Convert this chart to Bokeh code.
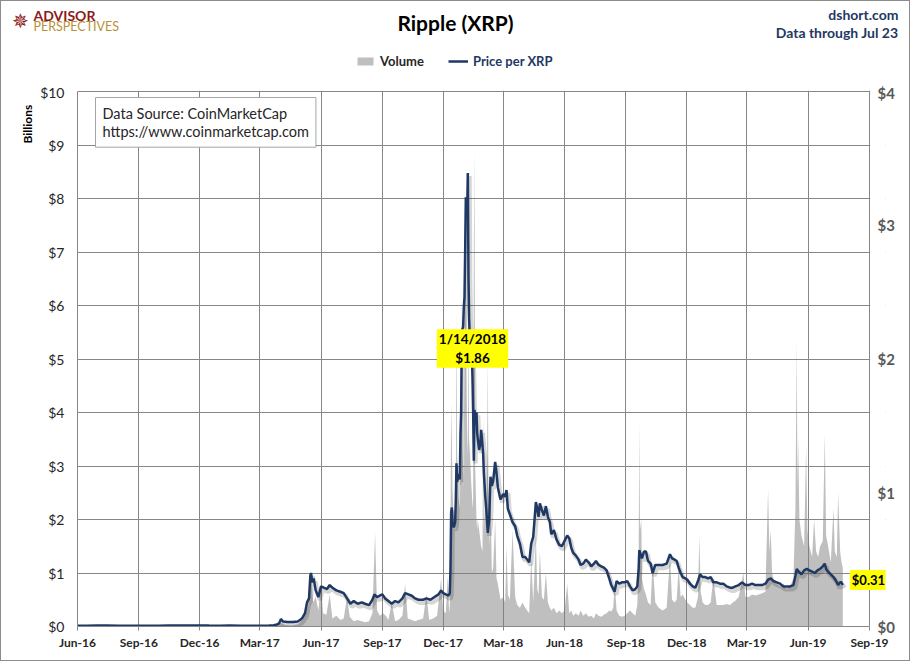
import math
import pandas as pd
from bokeh.plotting import figure
from bokeh.layouts import column, row
from bokeh.models import (ColumnDataSource, Range1d, LinearAxis, FixedTicker,
                          NumeralTickFormatter, Label, Legend, LegendItem, BoxAnnotation)
from bokeh.transform import dodge
from bokeh.embed import file_html
from bokeh.resources import INLINE

# ---------------- data ----------------
x_start = "2016-06-01"
x_end = "2019-09-01"
x_tick_dates = ["2016-06-01", "2016-09-01", "2016-12-01", "2017-03-01", "2017-06-01",
                "2017-09-01", "2017-12-01", "2018-03-01", "2018-06-01", "2018-09-01",
                "2018-12-01", "2019-03-01", "2019-06-01", "2019-09-01"]
x_tick_labels = ["Jun-16", "Sep-16", "Dec-16", "Mar-17", "Jun-17", "Sep-17", "Dec-17",
                 "Mar-18", "Jun-18", "Sep-18", "Dec-18", "Mar-19", "Jun-19", "Sep-19"]
vol_ticks = [0, 1, 2, 3, 4, 5, 6, 7, 8, 9, 10]
price_ticks = [0, 1, 2, 3, 4]

price_dates = [
    "2016-06-01", "2016-06-15", "2016-07-01", "2016-07-15", "2016-08-01", "2016-08-15", "2016-09-01", "2016-09-15",
    "2016-10-01", "2016-10-15", "2016-11-01", "2016-11-15", "2016-12-01", "2016-12-15", "2017-01-01", "2017-01-15",
    "2017-02-01", "2017-02-15", "2017-03-01", "2017-03-15", "2017-03-22", "2017-03-26", "2017-03-30", "2017-04-02",
    "2017-04-05", "2017-04-12", "2017-04-20", "2017-04-27", "2017-05-01", "2017-05-04", "2017-05-08", "2017-05-11",
    "2017-05-14", "2017-05-16", "2017-05-17", "2017-05-19", "2017-05-21", "2017-05-24", "2017-05-28", "2017-06-01",
    "2017-06-05", "2017-06-10", "2017-06-14", "2017-06-18", "2017-06-24", "2017-06-30", "2017-07-05", "2017-07-10",
    "2017-07-15", "2017-07-20", "2017-07-26", "2017-08-01", "2017-08-06", "2017-08-12", "2017-08-17", "2017-08-20",
    "2017-08-24", "2017-08-28", "2017-09-01", "2017-09-05", "2017-09-10", "2017-09-15", "2017-09-20", "2017-09-25",
    "2017-10-01", "2017-10-05", "2017-10-10", "2017-10-15", "2017-10-20", "2017-10-25", "2017-11-01", "2017-11-06",
    "2017-11-12", "2017-11-18", "2017-11-24", "2017-11-28", "2017-12-01", "2017-12-05", "2017-12-09", "2017-12-11",
    "2017-12-12", "2017-12-13", "2017-12-14", "2017-12-15", "2017-12-17", "2017-12-19", "2017-12-20", "2017-12-21",
    "2017-12-22", "2017-12-24", "2017-12-26", "2017-12-27", "2017-12-28", "2017-12-29", "2017-12-31", "2018-01-01",
    "2018-01-02", "2018-01-03", "2018-01-04", "2018-01-05", "2018-01-06", "2018-01-07", "2018-01-08", "2018-01-09",
    "2018-01-10", "2018-01-11", "2018-01-12", "2018-01-13", "2018-01-14", "2018-01-15", "2018-01-16", "2018-01-17",
    "2018-01-18", "2018-01-20", "2018-01-21", "2018-01-22", "2018-01-24", "2018-01-26", "2018-01-27", "2018-01-29",
    "2018-01-30", "2018-01-31", "2018-02-02", "2018-02-04", "2018-02-06", "2018-02-08", "2018-02-10", "2018-02-12",
    "2018-02-14", "2018-02-17", "2018-02-19", "2018-02-21", "2018-02-25", "2018-03-01", "2018-03-04", "2018-03-06",
    "2018-03-08", "2018-03-11", "2018-03-15", "2018-03-19", "2018-03-22", "2018-03-26", "2018-03-30", "2018-04-03",
    "2018-04-06", "2018-04-09", "2018-04-12", "2018-04-15", "2018-04-19", "2018-04-21", "2018-04-23", "2018-04-25",
    "2018-04-28", "2018-05-01", "2018-05-04", "2018-05-07", "2018-05-10", "2018-05-12", "2018-05-16", "2018-05-20",
    "2018-05-24", "2018-05-28", "2018-06-01", "2018-06-05", "2018-06-08", "2018-06-11", "2018-06-14", "2018-06-18",
    "2018-06-22", "2018-06-25", "2018-06-29", "2018-07-03", "2018-07-07", "2018-07-11", "2018-07-15", "2018-07-18",
    "2018-07-22", "2018-07-26", "2018-07-30", "2018-08-03", "2018-08-07", "2018-08-10", "2018-08-13", "2018-08-15",
    "2018-08-18", "2018-08-22", "2018-08-26", "2018-08-30", "2018-09-03", "2018-09-07", "2018-09-11", "2018-09-15",
    "2018-09-18", "2018-09-20", "2018-09-21", "2018-09-23", "2018-09-25", "2018-09-28", "2018-10-01", "2018-10-04",
    "2018-10-08", "2018-10-11", "2018-10-15", "2018-10-20", "2018-10-26", "2018-11-01", "2018-11-06", "2018-11-09",
    "2018-11-13", "2018-11-16", "2018-11-19", "2018-11-22", "2018-11-25", "2018-11-29", "2018-12-02", "2018-12-06",
    "2018-12-10", "2018-12-14", "2018-12-18", "2018-12-21", "2018-12-25", "2018-12-29", "2019-01-02", "2019-01-06",
    "2019-01-10", "2019-01-15", "2019-01-20", "2019-01-25", "2019-01-30", "2019-02-04", "2019-02-08", "2019-02-12",
    "2019-02-17", "2019-02-22", "2019-02-27", "2019-03-04", "2019-03-09", "2019-03-14", "2019-03-19", "2019-03-24",
    "2019-03-29", "2019-04-02", "2019-04-06", "2019-04-10", "2019-04-15", "2019-04-20", "2019-04-25", "2019-04-30",
    "2019-05-05", "2019-05-10", "2019-05-13", "2019-05-15", "2019-05-18", "2019-05-22", "2019-05-26", "2019-05-30",
    "2019-06-03", "2019-06-07", "2019-06-11", "2019-06-15", "2019-06-19", "2019-06-23", "2019-06-26", "2019-06-28",
    "2019-07-01", "2019-07-05", "2019-07-09", "2019-07-13", "2019-07-16", "2019-07-19", "2019-07-21", "2019-07-23",
]
price_values = [
    0.0060, 0.0065, 0.0066, 0.0067, 0.0062, 0.0064, 0.0061, 0.0064,
    0.0064, 0.0070, 0.0075, 0.0080, 0.0075, 0.0068, 0.0065, 0.0068,
    0.0063, 0.0062, 0.0063, 0.0070, 0.0090, 0.0130, 0.0230, 0.0550,
    0.037, 0.033, 0.034, 0.037, 0.050, 0.065, 0.100, 0.180,
    0.210, 0.380, 0.400, 0.330, 0.360, 0.270, 0.220, 0.300,
    0.290, 0.280, 0.310, 0.290, 0.270, 0.260, 0.250, 0.210,
    0.170, 0.190, 0.170, 0.180, 0.170, 0.160, 0.200, 0.240,
    0.220, 0.230, 0.240, 0.210, 0.190, 0.170, 0.190, 0.180,
    0.210, 0.250, 0.240, 0.230, 0.210, 0.200, 0.200, 0.210,
    0.200, 0.220, 0.240, 0.270, 0.250, 0.240, 0.230, 0.250,
    0.430, 0.850, 0.890, 0.780, 0.740, 0.780, 0.950, 1.220,
    1.080, 1.140, 1.100, 1.440, 1.600, 2.210, 2.240, 2.390,
    2.460, 2.800, 3.210, 3.180, 3.100, 3.390, 2.600, 2.300,
    2.150, 2.050, 2.000, 2.050, 1.860, 1.600, 1.240, 1.620,
    1.550, 1.600, 1.450, 1.400, 1.320, 1.380, 1.470, 1.350,
    1.290, 1.150, 0.980, 0.850, 0.700, 0.800, 1.120, 1.050,
    1.090, 1.230, 1.150, 1.040, 0.950, 0.990, 0.970, 1.020,
    0.880, 0.840, 0.780, 0.750, 0.680, 0.620, 0.520, 0.520,
    0.500, 0.480, 0.620, 0.670, 0.930, 0.880, 0.820, 0.920,
    0.870, 0.830, 0.900, 0.820, 0.780, 0.690, 0.720, 0.650,
    0.610, 0.600, 0.640, 0.680, 0.660, 0.590, 0.550, 0.530,
    0.500, 0.460, 0.470, 0.500, 0.480, 0.450, 0.470, 0.490,
    0.460, 0.450, 0.440, 0.420, 0.360, 0.310, 0.280, 0.260,
    0.340, 0.320, 0.330, 0.330, 0.340, 0.300, 0.270, 0.280,
    0.300, 0.430, 0.570, 0.540, 0.510, 0.560, 0.560, 0.490,
    0.470, 0.400, 0.460, 0.460, 0.460, 0.470, 0.540, 0.510,
    0.500, 0.490, 0.440, 0.400, 0.370, 0.360, 0.350, 0.320,
    0.300, 0.290, 0.340, 0.390, 0.370, 0.370, 0.360, 0.370,
    0.330, 0.330, 0.320, 0.320, 0.300, 0.290, 0.290, 0.300,
    0.310, 0.330, 0.310, 0.310, 0.320, 0.310, 0.310, 0.310,
    0.320, 0.350, 0.360, 0.340, 0.330, 0.320, 0.300, 0.300,
    0.300, 0.310, 0.380, 0.430, 0.410, 0.390, 0.420, 0.430,
    0.420, 0.410, 0.400, 0.420, 0.430, 0.450, 0.470, 0.430,
    0.410, 0.390, 0.370, 0.340, 0.310, 0.330, 0.330, 0.310,
]

vol_dates = [
    "2016-06-01", "2016-08-01", "2016-10-01", "2016-12-01", "2017-02-01", "2017-03-20", "2017-03-28", "2017-04-02",
    "2017-04-08", "2017-04-18", "2017-04-28", "2017-05-04", "2017-05-09", "2017-05-13", "2017-05-17", "2017-05-20",
    "2017-05-24", "2017-05-28", "2017-06-01", "2017-06-04", "2017-06-09", "2017-06-14", "2017-06-18", "2017-06-24",
    "2017-06-30", "2017-07-05", "2017-07-10", "2017-07-14", "2017-07-20", "2017-07-26", "2017-08-01", "2017-08-06",
    "2017-08-12", "2017-08-17", "2017-08-21", "2017-08-24", "2017-08-28", "2017-09-02", "2017-09-06", "2017-09-10",
    "2017-09-15", "2017-09-20", "2017-09-25", "2017-10-01", "2017-10-05", "2017-10-09", "2017-10-15", "2017-10-20",
    "2017-10-25", "2017-11-01", "2017-11-06", "2017-11-10", "2017-11-16", "2017-11-22", "2017-11-28", "2017-12-01",
    "2017-12-05", "2017-12-08", "2017-12-10", "2017-12-11", "2017-12-12", "2017-12-13", "2017-12-14", "2017-12-15",
    "2017-12-17", "2017-12-19", "2017-12-20", "2017-12-21", "2017-12-22", "2017-12-24", "2017-12-26", "2017-12-27",
    "2017-12-28", "2017-12-29", "2017-12-30", "2017-12-31", "2018-01-01", "2018-01-02", "2018-01-03", "2018-01-04",
    "2018-01-05", "2018-01-06", "2018-01-07", "2018-01-08", "2018-01-09", "2018-01-10", "2018-01-11", "2018-01-12",
    "2018-01-13", "2018-01-14", "2018-01-15", "2018-01-16", "2018-01-17", "2018-01-18", "2018-01-20", "2018-01-21",
    "2018-01-22", "2018-01-24", "2018-01-26", "2018-01-27", "2018-01-29", "2018-01-30", "2018-01-31", "2018-02-02",
    "2018-02-04", "2018-02-06", "2018-02-07", "2018-02-08", "2018-02-10", "2018-02-12", "2018-02-14", "2018-02-17",
    "2018-02-19", "2018-02-21", "2018-02-25", "2018-03-01", "2018-03-04", "2018-03-06", "2018-03-08", "2018-03-11",
    "2018-03-15", "2018-03-19", "2018-03-22", "2018-03-26", "2018-03-30", "2018-04-03", "2018-04-06", "2018-04-09",
    "2018-04-12", "2018-04-15", "2018-04-19", "2018-04-21", "2018-04-23", "2018-04-25", "2018-04-28", "2018-05-01",
    "2018-05-04", "2018-05-07", "2018-05-10", "2018-05-12", "2018-05-16", "2018-05-20", "2018-05-24", "2018-05-28",
    "2018-06-01", "2018-06-05", "2018-06-08", "2018-06-11", "2018-06-14", "2018-06-18", "2018-06-22", "2018-06-25",
    "2018-06-29", "2018-07-03", "2018-07-07", "2018-07-11", "2018-07-15", "2018-07-18", "2018-07-22", "2018-07-26",
    "2018-07-30", "2018-08-03", "2018-08-07", "2018-08-10", "2018-08-13", "2018-08-15", "2018-08-18", "2018-08-22",
    "2018-08-26", "2018-08-30", "2018-09-03", "2018-09-07", "2018-09-11", "2018-09-15", "2018-09-18", "2018-09-20",
    "2018-09-21", "2018-09-22", "2018-09-24", "2018-09-25", "2018-09-28", "2018-10-01", "2018-10-04", "2018-10-08",
    "2018-10-11", "2018-10-15", "2018-10-20", "2018-10-26", "2018-11-01", "2018-11-06", "2018-11-09", "2018-11-13",
    "2018-11-16", "2018-11-19", "2018-11-22", "2018-11-25", "2018-11-29", "2018-12-02", "2018-12-06", "2018-12-10",
    "2018-12-14", "2018-12-18", "2018-12-20", "2018-12-22", "2018-12-25", "2018-12-29", "2019-01-02", "2019-01-06",
    "2019-01-10", "2019-01-15", "2019-01-20", "2019-01-25", "2019-01-30", "2019-02-04", "2019-02-08", "2019-02-12",
    "2019-02-17", "2019-02-24", "2019-02-27", "2019-03-04", "2019-03-09", "2019-03-14", "2019-03-19", "2019-03-24",
    "2019-03-29", "2019-04-02", "2019-04-04", "2019-04-06", "2019-04-08", "2019-04-11", "2019-04-15", "2019-04-20",
    "2019-04-25", "2019-04-30", "2019-05-05", "2019-05-10", "2019-05-13", "2019-05-15", "2019-05-16", "2019-05-17",
    "2019-05-19", "2019-05-22", "2019-05-26", "2019-05-29", "2019-05-31", "2019-06-03", "2019-06-07", "2019-06-10",
    "2019-06-13", "2019-06-16", "2019-06-19", "2019-06-23", "2019-06-26", "2019-06-28", "2019-07-01", "2019-07-05",
    "2019-07-09", "2019-07-11", "2019-07-14", "2019-07-16", "2019-07-19", "2019-07-21", "2019-07-23",
]
vol_values = [
    0.002, 0.002, 0.003, 0.003, 0.002, 0.004, 0.02, 0.07,
    0.03, 0.02, 0.04, 0.12, 0.25, 0.40, 1.00, 0.45,
    0.55, 0.30, 0.80, 0.25, 0.22, 0.60, 0.15, 0.20,
    0.12, 0.15, 0.55, 0.18, 0.10, 0.12, 0.10, 0.08,
    0.10, 0.25, 1.75, 0.30, 0.20, 0.25, 0.20, 0.12,
    0.45, 0.10, 0.12, 0.20, 0.80, 0.15, 0.12, 0.10,
    0.12, 0.15, 0.60, 0.12, 0.15, 0.20, 0.90, 0.30,
    0.25, 0.95, 0.25, 0.40, 1.80, 4.20, 3.50, 2.60,
    1.90, 1.80, 2.50, 5.90, 3.20, 2.40, 2.20, 3.00,
    3.60, 6.20, 3.40, 3.00, 2.60, 3.80, 5.40, 7.50,
    4.80, 3.60, 3.20, 6.00, 3.20, 3.50, 3.00, 2.70,
    2.50, 2.20, 2.40, 7.00, 8.90, 3.00, 2.00, 1.80,
    2.00, 1.80, 1.60, 1.50, 1.40, 4.00, 1.80, 2.40,
    1.90, 5.00, 2.20, 1.50, 2.50, 1.00, 1.10, 2.00,
    0.90, 0.80, 0.50, 0.55, 0.45, 1.50, 0.60, 0.50,
    1.80, 0.55, 0.40, 0.35, 0.45, 0.35, 0.30, 0.25,
    1.30, 0.45, 1.70, 0.70, 0.60, 1.40, 0.55, 0.50,
    1.00, 0.45, 0.35, 0.30, 0.35, 0.25, 0.30, 0.25,
    0.30, 0.80, 0.25, 0.30, 0.20, 0.25, 0.20, 0.30,
    0.20, 0.25, 0.18, 0.20, 0.15, 0.25, 0.20, 0.18,
    0.22, 0.25, 0.30, 0.28, 0.35, 0.80, 0.30, 0.20,
    0.18, 0.20, 0.25, 0.30, 0.25, 0.20, 0.40, 1.20,
    3.80, 1.80, 2.00, 0.90, 0.70, 0.60, 0.45, 0.40,
    1.20, 0.45, 0.35, 0.30, 0.35, 1.30, 0.50, 0.45,
    0.50, 1.10, 0.55, 0.60, 0.50, 0.45, 0.40, 0.35,
    0.35, 0.55, 1.70, 0.65, 0.45, 0.40, 0.40, 0.45,
    0.90, 0.40, 0.40, 0.40, 0.42, 0.40, 0.45, 0.48,
    0.55, 1.00, 0.55, 0.55, 0.60, 0.58, 0.60, 0.62,
    0.65, 2.55, 1.40, 1.80, 1.00, 0.85, 0.80, 0.75,
    0.80, 0.70, 0.75, 0.90, 2.20, 5.35, 2.60, 3.50,
    2.00, 1.70, 1.50, 3.35, 1.80, 1.50, 1.30, 2.00,
    1.40, 1.30, 1.50, 1.60, 3.60, 1.70, 1.50, 1.20,
    2.20, 1.40, 1.30, 2.50, 1.40, 1.20, 1.10,
]

peak_label_date = "2018-01-14"
peak_label_value = 1.86
last_date = price_dates[-1]
last_value = price_values[-1]

# ---------------- helpers / style ----------------
FONT = "Lato"
NAVY = "#1F3864"
GRID = "#878787"
DAY_MS = 86400000
X_PAD_DAYS = 24          # empty strip right of Sep-19 so the end label fits
TOP_PAD = 1.0 / 535.0    # one pixel of room above the top gridline


def to_ms(s):
    return pd.Timestamp(s).value // 10**6


def plain_fig(width, height):
    f = figure(width=width, height=height, output_backend="svg", toolbar_location=None,
               x_axis_location=None, y_axis_location=None,
               x_range=Range1d(0, 1), y_range=Range1d(0, 1),
               min_border=0, min_border_left=0, min_border_right=0,
               min_border_top=0, min_border_bottom=0)
    f.outline_line_color = None
    f.grid.visible = False
    return f


def slabel(fig, x, y, text, **kw):
    lab = Label(x=x, y=y, x_units="screen", y_units="screen", text=text,
                text_font=kw.pop("text_font", FONT), **kw)
    fig.add_layout(lab)
    return lab


src_price = ColumnDataSource(dict(date=[to_ms(d) for d in price_dates], price=price_values))
src_vol = ColumnDataSource(dict(date=[to_ms(d) for d in vol_dates], vol=vol_values))

# ---------------- header ----------------
head = plain_fig(908, 82)
slabel(head, 454, 61, "Ripple (XRP)", text_font_size="21px", text_font_style="bold",
       text_color="black", text_align="center", text_baseline="middle")
slabel(head, 897, 69, "dshort.com", text_font_size="14px", text_font_style="bold",
       text_color=NAVY, text_align="right", text_baseline="middle")
slabel(head, 897, 51, "Data through Jul 23", text_font_size="14px", text_font_style="bold",
       text_color=NAVY, text_align="right", text_baseline="middle")
slabel(head, 32, 68, "ADVISOR", text_font_size="14px", text_font_style="bold",
       text_color="#8B1A1A", text_align="left", text_baseline="middle")
slabel(head, 32, 57, "PERSPECTIVES", text_font_size="12.5px",
       text_color="#B8903A", text_align="left", text_baseline="middle")
slabel(head, 19, 63, "\u2735", text_font="DejaVu Sans", text_font_size="20px",
       text_color="#8B1A1A", text_align="center", text_baseline="middle")

# legend entries (same series, far outside this strip's ranges, only their legend swatches show)
h_vol = head.varea(x="date", y1=0, y2="vol", source=src_vol, fill_color="#7F7F7F", fill_alpha=0.5)
h_price = head.line(x="date", y="price", source=src_price, line_color=NAVY, line_width=2.5)
leg_common = dict(orientation="horizontal", padding=0, margin=0, border_line_color=None,
                  background_fill_alpha=0, glyph_width=20, glyph_height=10, label_height=14,
                  label_standoff=5, label_text_font=FONT, label_text_font_size="13px",
                  label_text_font_style="bold")
head.add_layout(Legend(items=[LegendItem(label="Volume", renderers=[h_vol])], location=(354, 14),
                       label_text_color="#262626", **leg_common))
head.add_layout(Legend(items=[LegendItem(label="Price per XRP", renderers=[h_price])], location=(447, 14),
                       label_text_color=NAVY, **leg_common))

# ---------------- left strip ("Billions") ----------------
strip = plain_fig(36, 577)
slabel(strip, 26, 483, "Billions", text_font_size="12px", text_font_style="bold",
       text_color="black", text_align="left", text_baseline="middle", angle=math.pi / 2)

# ---------------- main chart ----------------
p = figure(width=872, height=577, x_axis_type="datetime",
           x_range=Range1d(to_ms(x_start), to_ms(x_end) + X_PAD_DAYS * DAY_MS),
           y_range=Range1d(vol_ticks[0], vol_ticks[-1] * (1 + TOP_PAD)),
           output_backend="svg", toolbar_location=None,
           min_border_left=40, min_border_right=24, min_border_top=7, min_border_bottom=34,
           background_fill_color="white", border_fill_color="white")
p.extra_y_ranges = {"price": Range1d(price_ticks[0], price_ticks[-1] * (1 + TOP_PAD))}
p.outline_line_color = None

ly = p.yaxis[0]
ly.ticker = FixedTicker(ticks=vol_ticks)
ly.formatter = NumeralTickFormatter(format="$0")
ly.major_label_text_font = FONT
ly.major_label_text_font_size = "14px"
ly.major_label_text_color = "#262626"
ly.major_tick_line_color = None
ly.minor_tick_line_color = None
ly.major_tick_out = 0
ly.major_tick_in = 0
ly.axis_line_color = GRID
ly.bounds = (vol_ticks[0], vol_ticks[-1])
ly.major_label_standoff = 13

ry = LinearAxis(y_range_name="price", ticker=FixedTicker(ticks=price_ticks),
                formatter=NumeralTickFormatter(format="$0"))
ry.major_label_text_font = FONT
ry.major_label_text_font_size = "15px"
ry.major_label_text_font_style = "bold"
ry.major_label_text_color = "#595959"
ry.major_tick_line_color = None
ry.minor_tick_line_color = None
ry.major_tick_out = 0
ry.major_tick_in = 0
ry.axis_line_color = None
ry.major_label_standoff = -8
p.add_layout(ry, "right")

xticks = [to_ms(d) for d in x_tick_dates]
bx = p.xaxis[0]
bx.ticker = FixedTicker(ticks=xticks)
bx.major_label_overrides = {t: lab for t, lab in zip(xticks, x_tick_labels)}
bx.major_label_text_font = FONT
bx.major_label_text_font_size = "12px"
bx.major_label_text_font_style = "bold"
bx.major_label_text_color = "#262626"
bx.major_tick_line_color = GRID
bx.major_tick_out = 4
bx.major_tick_in = 0
bx.minor_tick_line_color = None
bx.axis_line_color = GRID
bx.bounds = (to_ms(x_start), to_ms(x_end))
bx.major_label_standoff = 4

p.xgrid.ticker = FixedTicker(ticks=xticks)
p.xgrid.grid_line_color = GRID
p.ygrid.grid_line_color = GRID

# blank the strip right of the last gridline (drawn under everything else)
p.add_layout(BoxAnnotation(left=to_ms(x_end) + DAY_MS, fill_color="white", fill_alpha=1.0,
                           line_color=None, level="underlay"))

r_vol = p.varea(x="date", y1=0, y2="vol", source=src_vol, fill_color="#7F7F7F", fill_alpha=0.5)
p.line(x=dodge("date", 2.5 * DAY_MS), y=dodge("price", -0.022), source=src_price,
       y_range_name="price", line_color="black", line_alpha=0.16, line_width=4.5)
r_price = p.line(x="date", y="price", source=src_price, y_range_name="price",
                 line_color=NAVY, line_width=2.5)

src_text = "Data Source: CoinMarketCap\nhttps://www.coinmarketcap.com"
box_kw = dict(text_font_size="14.5px", text_align="left", text_baseline="top",
              text_line_height=1.1, padding=7)
slabel(p, 21, 526, src_text, text_alpha=0, background_fill_color="black",
       background_fill_alpha=0.18, **box_kw)
slabel(p, 18, 529, src_text, text_color="#262626", background_fill_color="white",
       border_line_color="#A6A6A6", border_line_width=1, **box_kw)

pk = pd.Timestamp(peak_label_date)
peak_text = f"{pk.month}/{pk.day}/{pk.year}\n${peak_label_value:.2f}"
for pad, alpha in ((5, 0.35), (2, 1.0)):
    p.add_layout(Label(x=to_ms(peak_label_date), y=peak_label_value, y_range_name="price",
                       text=peak_text, text_font=FONT, text_font_size="13.5px", text_font_style="bold",
                       text_color="black", text_alpha=1.0 if alpha == 1.0 else 0.0,
                       text_align="center", text_baseline="bottom", text_line_height=1.15,
                       y_offset=10, padding=pad, background_fill_color="#FFFF00",
                       background_fill_alpha=alpha))

last_text = f"${last_value:.2f}"
for pad, alpha in ((4, 0.35), (2, 1.0)):
    p.add_layout(Label(x=to_ms(last_date), y=last_value, y_range_name="price",
                       text=last_text, text_font=FONT, text_font_size="13px", text_font_style="bold",
                       text_color="black", text_alpha=1.0 if alpha == 1.0 else 0.0,
                       text_align="left", text_baseline="middle",
                       x_offset=7, y_offset=5, padding=pad,
                       background_fill_color="#FFFF00", background_fill_alpha=alpha))

layout = column(head, row(strip, p))
layout.styles = {"border": "1px solid #8c8c8c"}

open("out.html", "w").write(file_html(layout, INLINE))
